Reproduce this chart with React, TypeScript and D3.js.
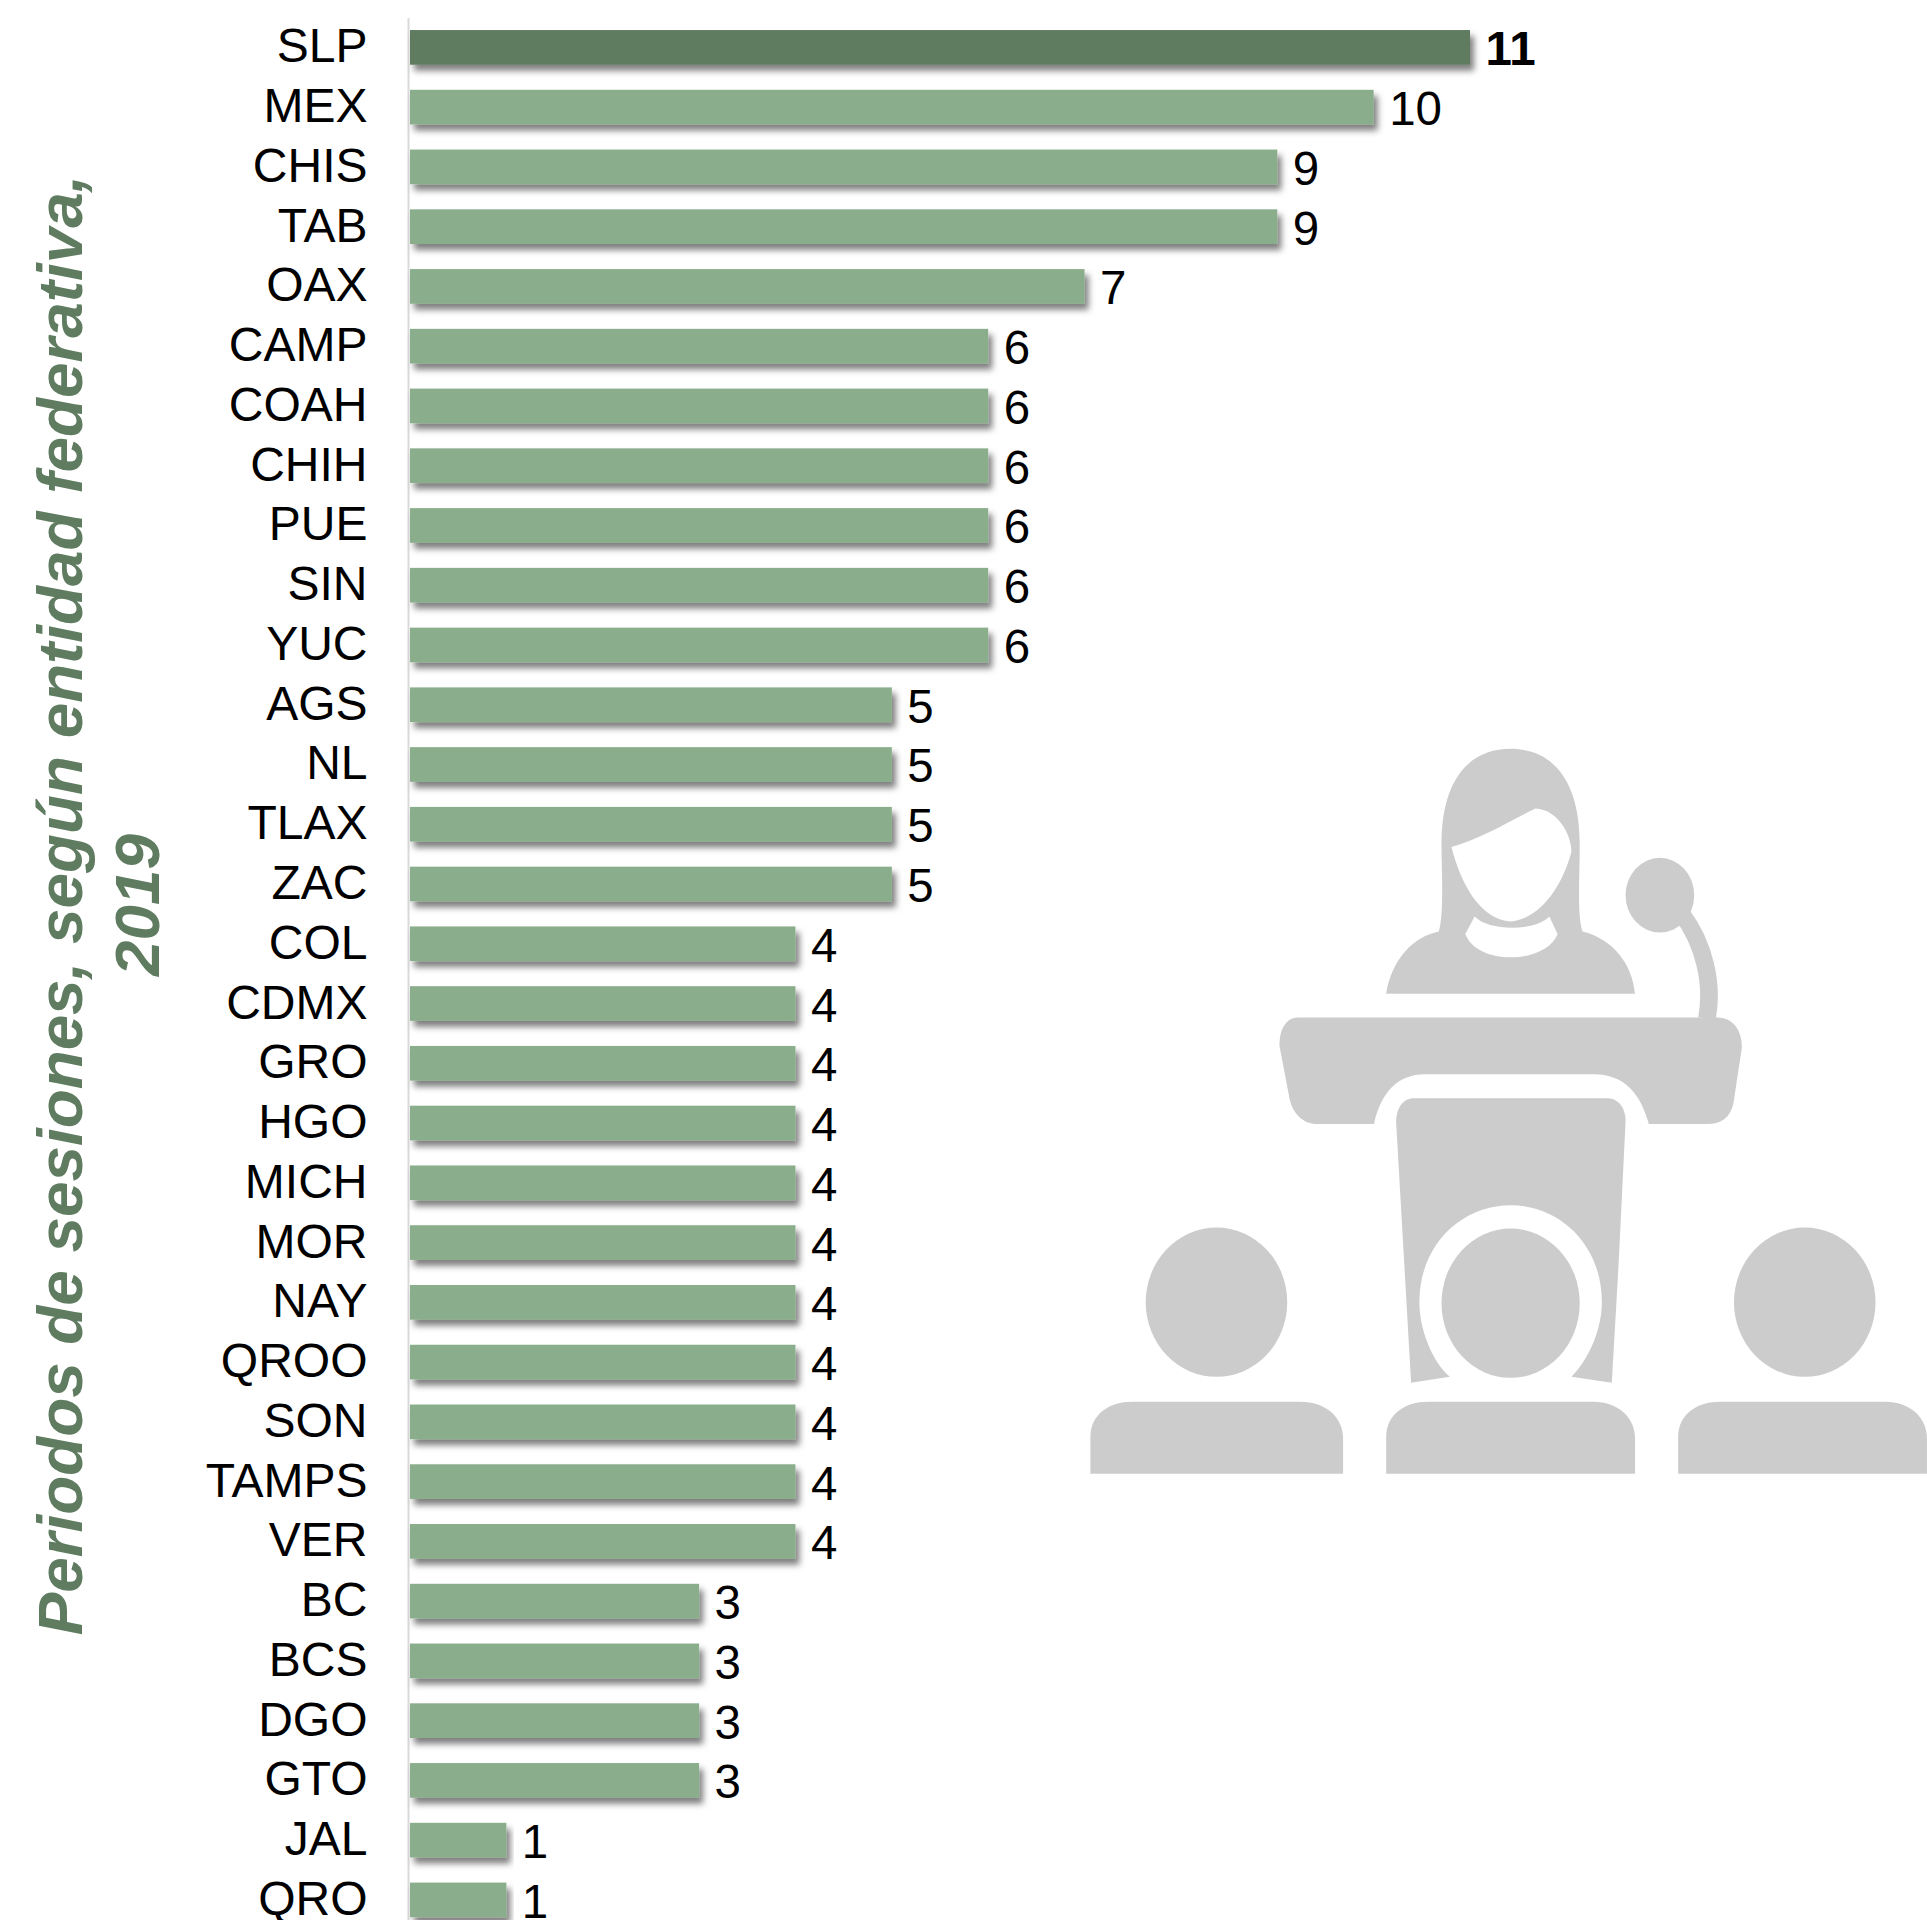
import { useEffect, useRef } from 'react';
import * as d3 from 'd3';

const categories = [
  'SLP', 'MEX', 'CHIS', 'TAB', 'OAX', 'CAMP', 'COAH', 'CHIH', 'PUE', 'SIN', 'YUC',
  'AGS', 'NL', 'TLAX', 'ZAC', 'COL', 'CDMX', 'GRO', 'HGO', 'MICH', 'MOR', 'NAY',
  'QROO', 'SON', 'TAMPS', 'VER', 'BC', 'BCS', 'DGO', 'GTO', 'JAL', 'QRO',
];
const periods = [
  11, 10, 9, 9, 7, 6, 6, 6, 6, 6, 6,
  5, 5, 5, 5, 4, 4, 4, 4, 4, 4, 4,
  4, 4, 4, 4, 3, 3, 3, 3, 1, 1,
];
const titleLines = ['Periodos de sesiones, según entidad federativa,', '2019'];

const WIDTH = 1927;
const HEIGHT = 1920;
const FONT = '"Liberation Sans", Arial, sans-serif';
const BAR_COLOR = '#8aad8b';
const TOP_COLOR = '#5f7c61';
const ICON_COLOR = '#cccccc';

const x = d3.scaleLinear().domain([0, 11]).range([410, 1470]);
const y = d3
  .scaleBand<string>()
  .domain(categories)
  .range([17.5, 1929.8])
  .paddingInner(0.42)
  .paddingOuter(0.21);

const Icon = () => (
  <g transform="translate(1060,720) scale(0.5529,0.4976)" fill={ICON_COLOR}>
    {/* speaker */}
    <path d="M690,250 C690,120 740,58 815,58 C890,58 940,120 940,250 C940,320 935,390 945,425 C1000,440 1035,490 1040,550 L590,550 C600,480 640,435 685,425 C695,390 690,300 690,250 Z" />
    <path fill="#fff" d="M708,255 C760,240 810,205 860,178 C900,180 925,230 925,265 C910,330 870,400 815,405 C760,400 725,330 708,255 Z" />
    <path fill="#fff" d="M750,395 C775,425 860,425 885,395 L900,430 C880,490 755,495 733,430 Z" />
    {/* microphone */}
    <ellipse cx={1085} cy={352} rx={62} ry={75} />
    <path d="M1125,390 C1165,450 1182,530 1170,600" fill="none" stroke={ICON_COLOR} strokeWidth={32} />
    {/* podium */}
    <path d="M430,598 L1190,598 C1220,598 1235,630 1233,660 L1218,770 C1212,800 1195,812 1170,812 L1065,812 C1050,750 1020,712 965,712 L660,712 C610,712 580,750 568,812 L465,812 C440,812 420,790 415,760 L397,655 C397,620 410,598 430,598 Z" />
    <path d="M640,760 L990,760 C1010,760 1023,780 1023,805 L1010,1100 L998,1332 L925,1320 C960,1280 980,1220 980,1170 C980,1050 900,975 815,975 C730,975 650,1050 650,1170 C650,1220 670,1285 705,1320 L635,1332 L608,810 C608,780 620,760 640,760 Z" />
    {/* audience */}
    <ellipse cx={283} cy={1170} rx={128} ry={150} />
    <ellipse cx={815} cy={1172} rx={125} ry={150} />
    <ellipse cx={1347} cy={1170} rx={128} ry={150} />
    <path d="M55,1515 L55,1440 C55,1395 90,1370 130,1370 L435,1370 C480,1370 512,1400 512,1445 L512,1515 Z" />
    <path d="M590,1515 L590,1440 C590,1395 625,1370 665,1370 L965,1370 C1008,1370 1040,1400 1040,1445 L1040,1515 Z" />
    <path d="M1118,1515 L1118,1440 C1118,1395 1153,1370 1193,1370 L1493,1370 C1536,1370 1568,1400 1568,1445 L1568,1515 Z" />
  </g>
);

const App = () => {
  const axisRef = useRef<SVGGElement>(null);

  useEffect(() => {
    const axis = d3.select(axisRef.current);
    axis.call(d3.axisLeft(y).tickSize(0).tickPadding(42.5));
    axis.select('.domain').remove();
    axis
      .selectAll('text')
      .attr('font-family', FONT)
      .attr('font-size', 48)
      .attr('fill', '#000')
      .attr('dy', 15);
  }, []);

  return (
    <svg
      width={WIDTH}
      height={HEIGHT}
      viewBox={`0 0 ${WIDTH} ${HEIGHT}`}
      style={{ position: 'absolute', left: 0, top: 0, background: '#fff' }}
    >
      <defs>
        <filter id="barShadow" x="-5%" y="-30%" width="112%" height="170%">
          <feDropShadow dx={4} dy={6} stdDeviation={3} floodColor="#000" floodOpacity={0.5} />
        </filter>
      </defs>

      <Icon />

      <line x1={408.5} x2={408.5} y1={18} y2={HEIGHT} stroke="#d9d9d9" strokeWidth={2} />

      {categories.map((c, i) => (
        <rect
          key={c}
          x={x(0)}
          y={y(c)}
          width={x(periods[i]) - x(0)}
          height={y.bandwidth()}
          fill={i === 0 ? TOP_COLOR : BAR_COLOR}
          filter="url(#barShadow)"
        />
      ))}

      <g ref={axisRef} transform="translate(410,0)" />

      {categories.map((c, i) => (
        <text
          key={c}
          x={x(periods[i]) + 15.5}
          y={y(c)! + y.bandwidth() / 2 + 18}
          fontFamily={FONT}
          fontSize={47.5}
          fontWeight={i === 0 ? 700 : 400}
          fill="#000"
        >
          {periods[i]}
        </text>
      ))}

      <text
        transform="translate(0,905) rotate(-90)"
        textAnchor="middle"
        fontFamily={FONT}
        fontSize={63.8}
        fontWeight={700}
        fontStyle="italic"
        fill={TOP_COLOR}
      >
        <tspan x={0} y={82}>{titleLines[0]}</tspan>
        <tspan x={0} y={159}>{titleLines[1]}</tspan>
      </text>
    </svg>
  );
};

export default App;
